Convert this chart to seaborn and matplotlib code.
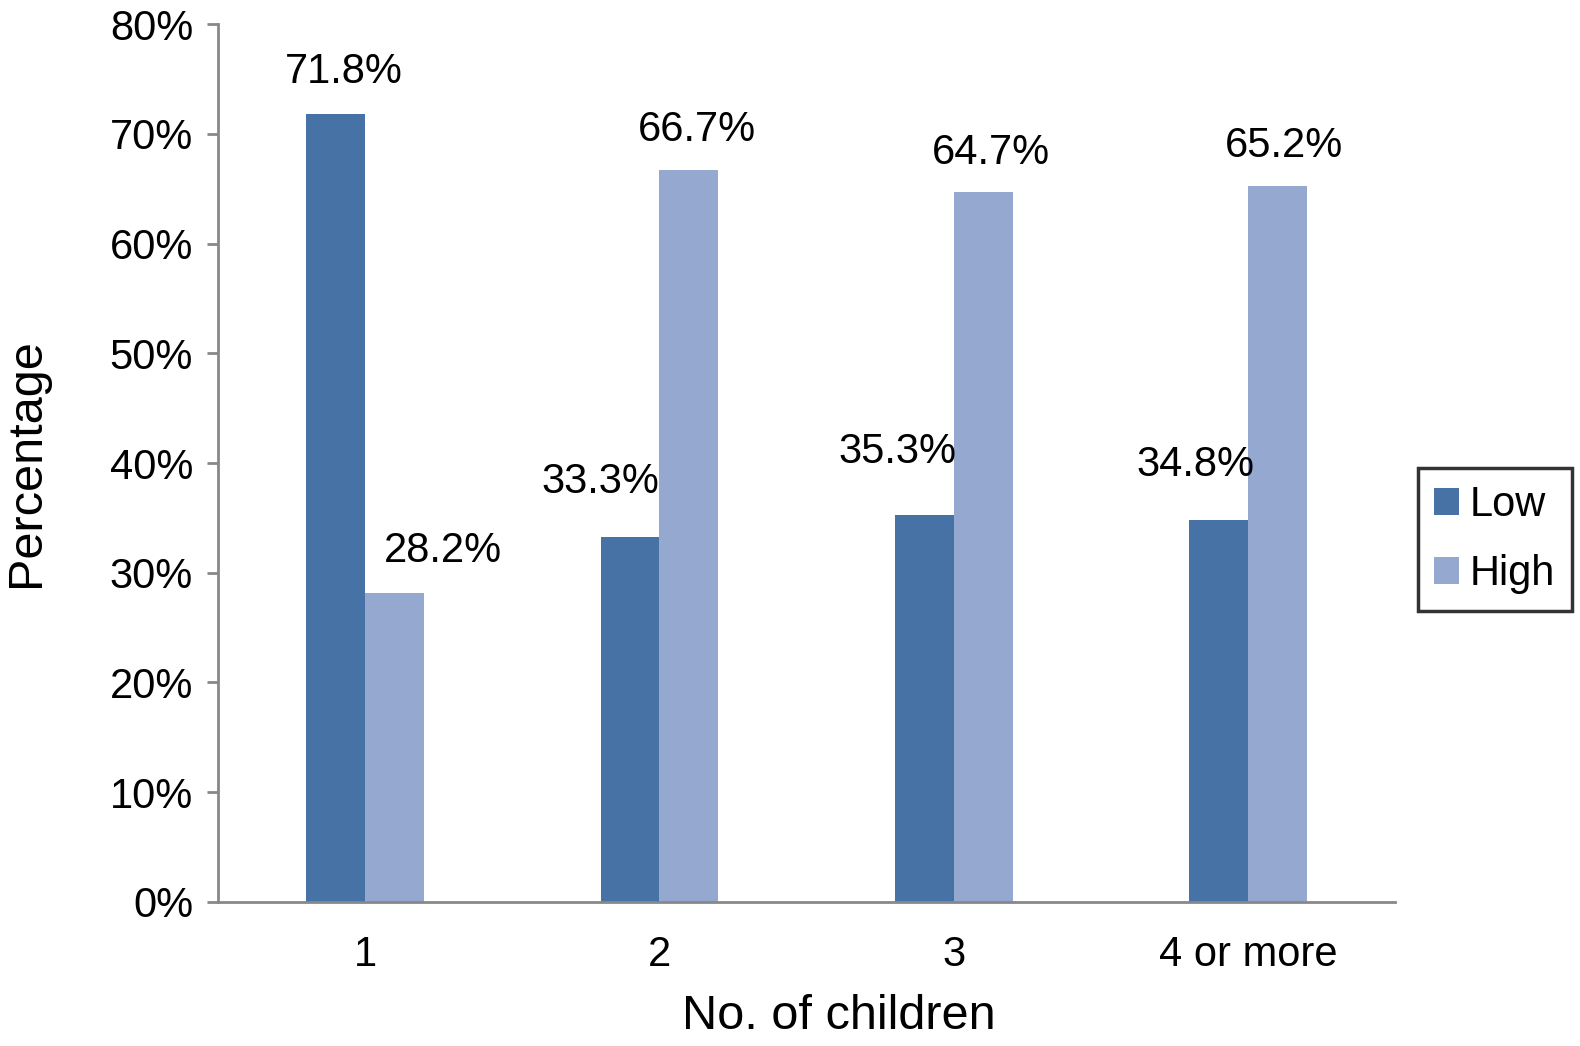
import pandas as pd
import seaborn as sns
import matplotlib.pyplot as plt
from matplotlib.ticker import PercentFormatter

# Data
categories = ['1', '2', '3', '4 or more']
low = [71.8, 33.3, 35.3, 34.8]
high = [28.2, 66.7, 64.7, 65.2]

df = pd.DataFrame({
    'children': categories * 2,
    'pct': low + high,
    'level': ['Low'] * len(categories) + ['High'] * len(categories),
})

# label nudges (pixels) so labels sit like in the original
nudge_x = {'Low': [8, -30, -27, -23], 'High': [48, 8, 8, 7]}
nudge_y = {'Low': [42, 55, 63, 55], 'High': [42, 40, 39, 40]}

sns.set_style('white')
plt.rcParams['font.family'] = ['Liberation Sans', 'DejaVu Sans']
plt.rcParams['text.color'] = 'black'
plt.rcParams['axes.labelcolor'] = 'black'
plt.rcParams['xtick.color'] = 'black'
plt.rcParams['ytick.color'] = 'black'

fig = plt.figure(figsize=(15.8, 10.46), dpi=100)
ax = fig.add_axes([0.138, 0.1377, 0.745, 0.8393])

sns.barplot(data=df, x='children', y='pct', hue='level',
            palette={'Low': '#4672A6', 'High': '#95A9D0'},
            width=0.4, saturation=1, linewidth=0, ax=ax, legend=True)

for cont, lvl in zip(ax.containers, ['Low', 'High']):
    for i, bar in enumerate(cont):
        h = bar.get_height()
        ax.annotate(f'{h:.1f}%', xy=(bar.get_x() + bar.get_width() / 2, h),
                    xytext=(nudge_x[lvl][i], nudge_y[lvl][i]),
                    textcoords='offset pixels', ha='center', va='center',
                    fontsize=30)

ax.set_ylim(0, 80)
ax.set_yticks(range(0, 81, 10))
ax.yaxis.set_major_formatter(PercentFormatter(decimals=0))
ax.set_xlim(-0.5, 3.5)

for side in ['top', 'right']:
    ax.spines[side].set_visible(False)
for side in ['left', 'bottom']:
    ax.spines[side].set_color('#888888')
    ax.spines[side].set_linewidth(2)

ax.tick_params(axis='y', which='major', left=True, length=8, width=2,
               color='#888888', labelcolor='black', labelsize=30, pad=10)
ax.tick_params(axis='x', length=0, labelsize=30, pad=24)

ax.set_xlabel('No. of children', fontsize=35)
ax.xaxis.set_label_coords(0.527, -0.105)
ax.set_ylabel('Percentage', fontsize=35, labelpad=44)

handles, labels = ax.get_legend_handles_labels()
ax.legend_.remove()
leg = fig.legend(handles, labels, loc='center', bbox_to_anchor=(0.946, 0.484),
                 fontsize=30, frameon=True, fancybox=False, handlelength=0.6,
                 handleheight=0.6, handletextpad=0.25, labelspacing=0.7,
                 borderpad=0.4, borderaxespad=0)
leg.get_frame().set_edgecolor('black')
leg.get_frame().set_linewidth(2.5)

fig.savefig('out.png', dpi=100)
